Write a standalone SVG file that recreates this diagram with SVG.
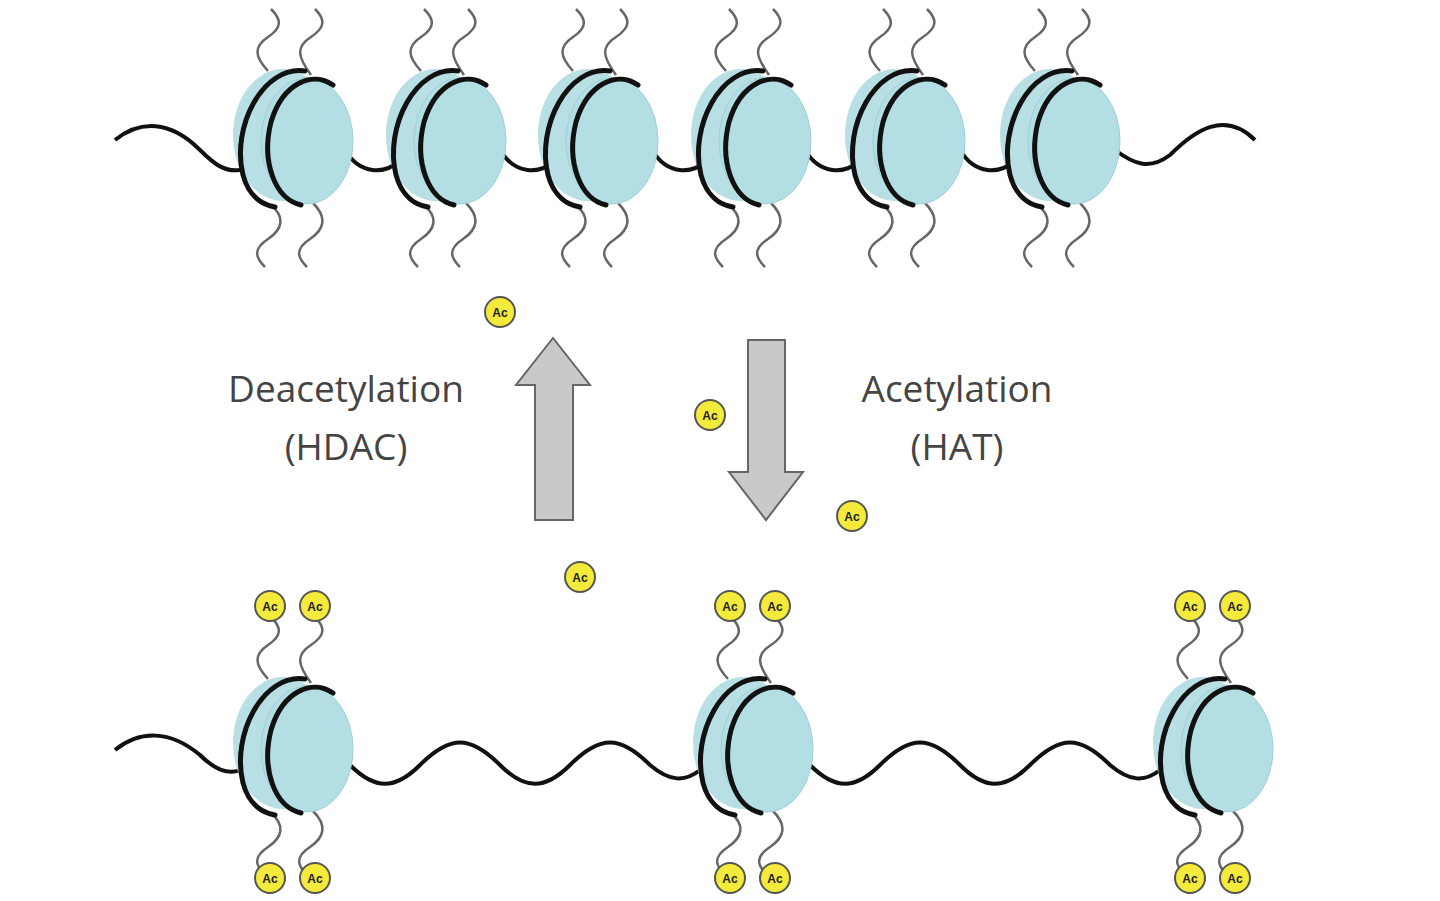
<svg xmlns="http://www.w3.org/2000/svg" xmlns:xlink="http://www.w3.org/1999/xlink" width="1440" height="901" viewBox="0 0 1440 901">
<style>
.dna{fill:none;stroke:#111;stroke-width:4}
.tail{fill:none;stroke:#666;stroke-width:2.5}
.ring{fill:none;stroke:#111;stroke-width:5;stroke-linecap:round}
.lbl{font-family:"Open Sans","Liberation Sans",sans-serif;font-size:37px;fill:#444;text-anchor:middle}
.act{font-family:"Liberation Sans",sans-serif;font-size:12px;font-weight:bold;fill:#222;text-anchor:middle}
.arr{fill:#c9c9c9;stroke:#666;stroke-width:2}
</style>
<defs>
<g id="nuc">
<ellipse cx="-10" cy="-2" rx="50" ry="66" fill="#b8e0e4"/>
<path class="ring" d="M12,-66 C-30,-72 -62,-10 -50,38 C-44,60 -30,68 -18,70"/>
<ellipse cx="14" cy="4" rx="46" ry="63" fill="#b3dee3" stroke="#9fcfd5" stroke-width="1"/>
<path class="ring" d="M40,-52 C20,-66 -10,-55 -22,-15 C-32,25 -18,62 8,68"/>
</g>
<g id="tt">
<path class="tail" d="M-25,-66 C-38,-80 -40,-90 -25,-100 C-10,-110 -12,-118 -22,-128"/>
<path class="tail" d="M18,-62 C5,-80 2,-90 18,-100 C33,-110 32,-118 22,-128"/>
</g>
<g id="bt">
<path class="tail" d="M-22,68 C-8,80 -10,92 -25,102 C-40,112 -38,120 -28,130"/>
<path class="tail" d="M20,66 C34,80 32,92 17,102 C2,112 4,120 14,130"/>
</g>
<g id="ac">
<circle r="15" fill="#f4ea3b" stroke="#555" stroke-width="2"/>
<text class="act" y="4.5">Ac</text>
</g>
</defs>
<g id="connectors">
<path class="dna" d="M115,140 C140,120 170,120 200,150 C215,165 225,172 240,170 M345,150 C360,175 385,175 400,160 M500,150 C515,175 540,175 555,160 M652,150 C667,175 692,175 707,160 M805,150 C820,175 845,175 860,160 M960,150 C975,175 1000,175 1015,160 M1115,150 C1135,165 1150,170 1170,155 C1195,130 1225,110 1255,140"/>
<path class="dna" d="M115,750 C140,730 170,730 200,755 C215,770 228,775 240,770 M350,765 C375,790 395,790 420,765 C450,735 470,735 500,765 C525,790 545,790 570,765 C600,735 620,735 650,765 C670,782 685,782 700,770 M810,765 C835,790 855,790 880,765 C910,735 930,735 960,765 C985,790 1005,790 1030,765 C1060,735 1080,735 1110,765 C1130,782 1145,782 1160,770"/>
</g>
<g id="top-nucleosomes">
<g transform="translate(293,137)"><use href="#tt"/><use href="#bt"/><use href="#nuc"/></g>
<g transform="translate(446,137)"><use href="#tt"/><use href="#bt"/><use href="#nuc"/></g>
<g transform="translate(598,137)"><use href="#tt"/><use href="#bt"/><use href="#nuc"/></g>
<g transform="translate(751,137)"><use href="#tt"/><use href="#bt"/><use href="#nuc"/></g>
<g transform="translate(905,137)"><use href="#tt"/><use href="#bt"/><use href="#nuc"/></g>
<g transform="translate(1060,137)"><use href="#tt"/><use href="#bt"/><use href="#nuc"/></g>
</g>
<g id="bottom-nucleosomes">
<g transform="translate(293,745)"><use href="#tt"/><use href="#bt"/><use href="#nuc"/><use href="#ac" x="-23" y="-139"/><use href="#ac" x="22" y="-139"/><use href="#ac" x="-23" y="133"/><use href="#ac" x="22" y="133"/></g>
<g transform="translate(753,745)"><use href="#tt"/><use href="#bt"/><use href="#nuc"/><use href="#ac" x="-23" y="-139"/><use href="#ac" x="22" y="-139"/><use href="#ac" x="-23" y="133"/><use href="#ac" x="22" y="133"/></g>
<g transform="translate(1213,745)"><use href="#tt"/><use href="#bt"/><use href="#nuc"/><use href="#ac" x="-23" y="-139"/><use href="#ac" x="22" y="-139"/><use href="#ac" x="-23" y="133"/><use href="#ac" x="22" y="133"/></g>
</g>
<g id="arrows">
<polygon class="arr" points="535,520 573,520 573,385 590,385 553,338 516,385 535,385"/>
<polygon class="arr" points="748,340 785,340 785,472 803,472 766,520 729,472 748,472"/>
</g>
<g id="free-ac">
<use href="#ac" x="500" y="312"/>
<use href="#ac" x="710" y="415"/>
<use href="#ac" x="852" y="516"/>
<use href="#ac" x="580" y="577"/>
</g>
<g id="labels">
<text class="lbl" x="346" y="402">Deacetylation</text>
<text class="lbl" x="346" y="460">(HDAC)</text>
<text class="lbl" x="957" y="402">Acetylation</text>
<text class="lbl" x="957" y="460">(HAT)</text>
</g>
</svg>
